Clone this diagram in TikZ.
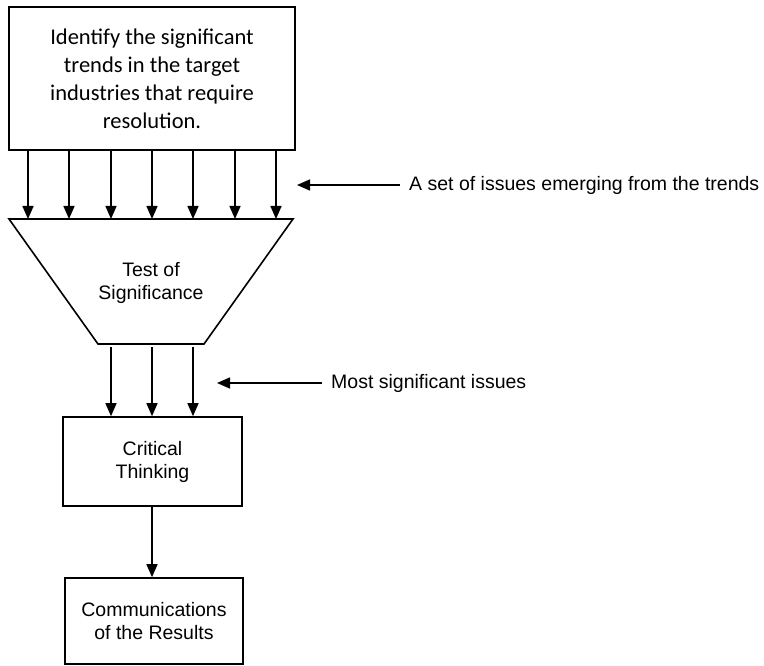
\documentclass[tikz,border=0pt]{standalone}
\usepackage{fontspec}
\setmainfont{Liberation Sans}
\newfontfamily\calfont{Carlito}
\usetikzlibrary{arrows.meta}
\begin{document}
\begin{tikzpicture}[x=1pt,y=-1pt,
  box/.style={draw,line width=1.6pt,inner sep=0pt,align=center},
  arr/.style={line width=1.5pt,-{Triangle[width=11pt,length=13pt]}},
  lab/.style={anchor=west,inner xsep=9pt,inner ysep=0pt},
  txt/.style={font=\fontsize{19.5}{23}\selectfont}]
\useasboundingbox (0,0) rectangle (764,666);
% top box
\node[box,minimum width=286pt,minimum height=143pt,
  font=\calfont\fontsize{22.5}{28}\selectfont] (top) at (152,78.5)
  {Identify the significant\\trends in the target\\industries that require\\resolution.};
% trapezoid
\coordinate (tl) at (9,219);
\coordinate (tr) at (293,219);
\coordinate (br) at (204,344);
\coordinate (bl) at (98,344);
\draw[line width=1.6pt,line join=miter] (tl) -- (tr) -- (br) -- (bl) -- cycle;
\node[txt,align=center] (tos) at (151,283) {Test of\\Significance};
\foreach \i/\x in {1/28,2/69,3/111,4/152,5/193,6/235,7/276}{
  \coordinate (t\i) at (\x,219);
  \draw[arr] (top.south -| t\i) -- (t\i);
}
% critical thinking
\node[box,txt,minimum width=179pt,minimum height=89pt] (crit) at (152.5,461.5) {Critical\\Thinking};
\foreach \i/\x in {1/111,2/152,3/193}{
  \coordinate (b\i) at (\x,347);
  \draw[arr] (b\i) -- (crit.north -| b\i);
}
% communications
\node[box,txt,minimum width=178pt,minimum height=86pt] (comm) at (154,621) {Communications\\of the Results};
\draw[arr] (crit.south -| b2) -- (comm.north -| b2);
% annotations
\coordinate (a1) at (297,185);
\node[lab,txt] (l1) at (400,185) {A set of issues emerging from the trends};
\draw[arr] (l1.west) -- (a1);
\coordinate (a2) at (217,383);
\node[lab,txt] (l2) at (322,383) {Most significant issues};
\draw[arr] (l2.west) -- (a2);
\end{tikzpicture}
\end{document}
